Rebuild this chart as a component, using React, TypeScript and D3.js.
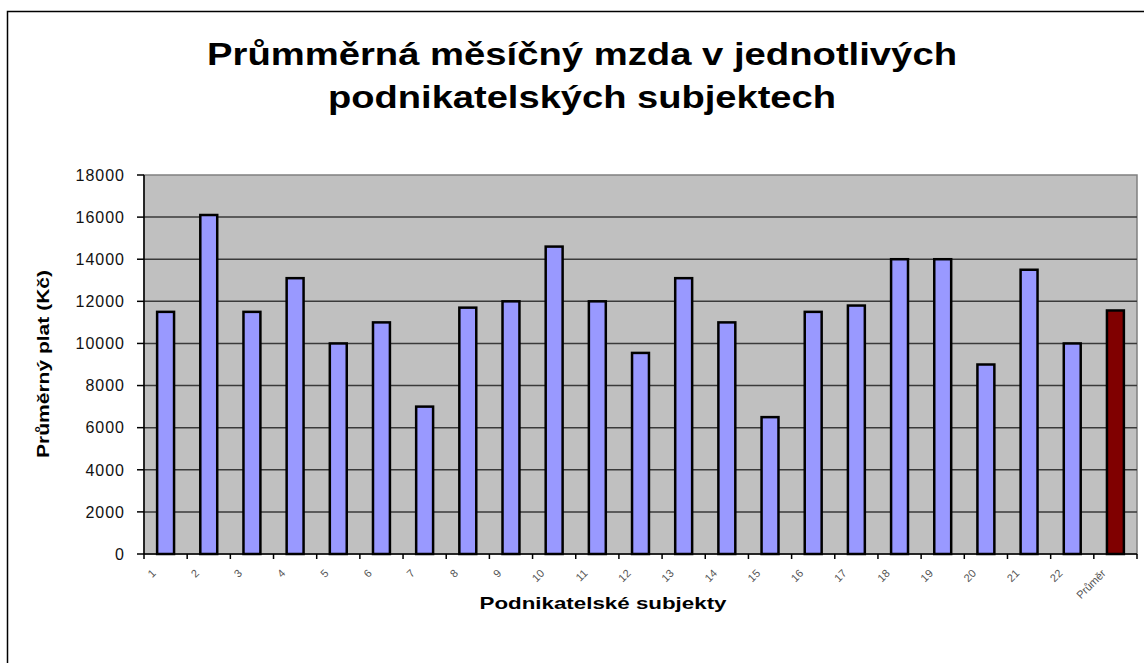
import React from "react";
import * as d3 from "d3";

const categories = ["1","2","3","4","5","6","7","8","9","10","11","12","13","14","15","16","17","18","19","20","21","22","Průměr"];
const values = [11500,16100,11500,13100,10000,11000,7000,11700,12000,14600,12000,9550,13100,11000,6500,11500,11800,14000,14000,9000,13500,10000,11566];
const yTicks = [0,2000,4000,6000,8000,10000,12000,14000,16000,18000];
const titleLines = ["Průmměrná měsíčný mzda v jednotlivých", "podnikatelských subjektech"];
const yTitle = "Průměrný plat (Kč)";
const xTitle = "Podnikatelské subjekty";

const W = 1144, H = 663;
const plot = { left: 144, top: 175, right: 1137, bottom: 554 };
const FONT = "'Liberation Sans', Arial, sans-serif";

export default function App() {
  const x = d3.scaleBand<string>().domain(categories).range([plot.left, plot.right]).paddingInner(0.55).paddingOuter(0.275);
  const y = d3.scaleLinear().domain([0, 18000]).range([plot.bottom, plot.top]);
  const step = x.step();
  const x0 = plot.left;
  const boundaries = d3.range(categories.length + 1).map(i => x0 + i * step);
  const titleLen = [750, 508];
  const k = Math.SQRT1_2;

  return (
    <svg width={W} height={H} style={{ position: "absolute", left: 0, top: 0, background: "#fff" }} fontFamily={FONT}>
      <rect x={0} y={0} width={W} height={H} fill="#fff" />
      <rect x={7.5} y={11.5} width={W + 20} height={H + 20} fill="none" stroke="#000" strokeWidth={1.5} />
      {titleLines.map((t, i) => (
        <text key={i} x={582} y={i === 0 ? 65 : 108} textAnchor="middle" fontSize={32} fontWeight="bold" fill="#000"
          textLength={titleLen[i]} lengthAdjust="spacingAndGlyphs">{t}</text>
      ))}
      <rect x={plot.left} y={plot.top} width={plot.right - plot.left} height={plot.bottom - plot.top} fill="#C0C0C0" stroke="#808080" strokeWidth={1.5} />
      {yTicks.filter(t => t > 0 && t < 18000).map(t => (
        <line key={t} x1={plot.left} x2={plot.right} y1={y(t)} y2={y(t)} stroke="#3a3a3a" strokeWidth={1.5} />
      ))}
      {categories.map((c, i) => {
        const v = values[i];
        return (
          <rect key={c} x={x(c)! + 1.25} y={y(v)} width={x.bandwidth() - 2.5} height={y(0) - y(v)}
            fill={i === categories.length - 1 ? "#800000" : "#9999FF"} stroke="#000" strokeWidth={2.5} />
        );
      })}
      <line x1={plot.left} x2={plot.left} y1={plot.top} y2={plot.bottom} stroke="#000" strokeWidth={1.5} />
      <line x1={plot.left} x2={plot.right} y1={plot.bottom} y2={plot.bottom} stroke="#000" strokeWidth={1.5} />
      {yTicks.map(t => (
        <g key={t}>
          <line x1={plot.left - 7} x2={plot.left} y1={y(t)} y2={y(t)} stroke="#000" strokeWidth={1.5} />
          <text x={125} y={y(t)} dy="0.36em" textAnchor="end" fontSize={16} letterSpacing={1} fill="#111">{t}</text>
        </g>
      ))}
      {boundaries.map((b, i) => (
        <line key={i} x1={b} x2={b} y1={plot.bottom} y2={plot.bottom + 5} stroke="#000" strokeWidth={1.5} />
      ))}
      {categories.map(c => {
        const cx = x(c)! + x.bandwidth() / 2 - 9;
        const cy = 574;
        return (
          <text key={c} x={0} y={0} textAnchor="end" fontSize={11} fill="#555"
            transform={`matrix(${k} ${-k} ${k} ${k} ${cx} ${cy})`}>{c}</text>
        );
      })}
      <text x={603} y={609} textAnchor="middle" fontSize={17} fontWeight="bold" fill="#000" textLength={247} lengthAdjust="spacingAndGlyphs">{xTitle}</text>
      <g transform="translate(49 364) rotate(-90)">
        <text x={0} y={0} textAnchor="middle" fontSize={17} fontWeight="bold" fill="#000" textLength={188} lengthAdjust="spacingAndGlyphs">{yTitle}</text>
      </g>
    </svg>
  );
}
